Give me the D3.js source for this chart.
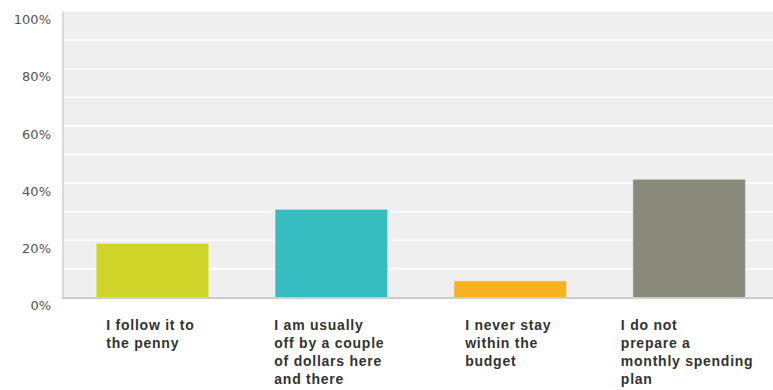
<!DOCTYPE html>
<html>
<head>
<meta charset="utf-8">
<script src="https://cdn.jsdelivr.net/npm/d3@7"></script>
<style>
  html, body { margin: 0; padding: 0; background: #fff; }
  svg { display: block; }
</style>
</head>
<body>
<svg id="chart" width="773" height="390"></svg>
<script>
// Survey answers: how closely people follow their monthly spending plan
const categories = [
  "I follow it to\nthe penny",
  "I am usually\noff by a couple\nof dollars here\nand there",
  "I never stay\nwithin the\nbudget",
  "I do not\nprepare a\nmonthly spending\nplan"
];
const percents = [19.1, 31.0, 6.0, 41.5];
const barColors = ["#cfd428", "#35bdbf", "#f8b11f", "#898a79"];
const tickValues = [0, 20, 40, 60, 80, 100];
const gridValues = [10, 20, 30, 40, 50, 60, 70, 80, 90];

(function () {
  const svg = d3.select("#chart");
  const plotLeft = 63, plotRight = 773, plotTop = 11.5, plotBottom = 297.5;

  const y = d3.scaleLinear().domain([0, 100]).range([plotBottom, plotTop]);
  const x = d3.scaleBand()
    .domain(categories)
    .range([plotLeft, plotLeft + 4 * 178.9])
    .paddingInner(0.365)
    .paddingOuter(0.1825);

  // plot background
  svg.append("rect")
    .attr("x", plotLeft).attr("y", plotTop)
    .attr("width", plotRight - plotLeft).attr("height", plotBottom - plotTop)
    .attr("fill", "#efefef");

  // horizontal gridlines
  svg.append("g").selectAll("line")
    .data(gridValues)
    .join("line")
    .attr("x1", plotLeft).attr("x2", plotRight)
    .attr("y1", d => y(d)).attr("y2", d => y(d))
    .attr("stroke", "#ffffff")
    .attr("stroke-width", 1.6);

  // y axis tick labels
  const yAxis = d3.axisLeft(y)
    .tickValues(tickValues)
    .tickFormat(d => d + "%")
    .tickSize(0)
    .tickPadding(0);
  const yg = svg.append("g")
    .attr("transform", "translate(51,0)")
    .call(yAxis);
  yg.select(".domain").remove();
  yg.selectAll("text")
    .attr("dy", 12.3)
    .attr("font-family", "'DejaVu Sans', Verdana, sans-serif")
    .attr("font-size", 13)
    .attr("fill", "#555555");

  // bars
  svg.append("g").selectAll("rect")
    .data(percents)
    .join("rect")
    .attr("x", (d, i) => x(categories[i]) + 0.5)
    .attr("y", d => y(d) + 0.5)
    .attr("width", x.bandwidth() - 1)
    .attr("height", d => plotBottom - y(d) - 0.5)
    .attr("fill", (d, i) => barColors[i])
    .attr("stroke", "rgba(255,255,255,0.4)")
    .attr("stroke-width", 1);

  // axis lines
  svg.append("line")
    .attr("x1", plotLeft).attr("x2", plotLeft)
    .attr("y1", plotTop).attr("y2", plotBottom + 1)
    .attr("stroke", "#d8d8d8").attr("stroke-width", 2);
  svg.append("line")
    .attr("x1", plotLeft - 1).attr("x2", plotRight)
    .attr("y1", plotBottom + 0.5).attr("y2", plotBottom + 0.5)
    .attr("stroke", "#cccccc").attr("stroke-width", 2);

  // category labels: block centered under each bar, lines left aligned
  const labelG = svg.append("g");
  categories.forEach(cat => {
    const lines = cat.split("\n");
    const t = labelG.append("text")
      .attr("font-family", "'Liberation Sans', Arial, sans-serif")
      .attr("font-size", 14)
      .attr("font-weight", "bold")
      .attr("letter-spacing", 0.75)
      .attr("fill", "#333333");
    lines.forEach((ln, j) => {
      t.append("tspan").attr("y", 329.5 + j * 18.3).text(ln);
    });
    let maxW = 0;
    t.selectAll("tspan").each(function () {
      maxW = Math.max(maxW, this.getComputedTextLength());
    });
    const cx = x(cat) + x.bandwidth() / 2;
    t.selectAll("tspan").attr("x", cx - maxW / 2 - 2);
  });
})();
</script>
</body>
</html>
